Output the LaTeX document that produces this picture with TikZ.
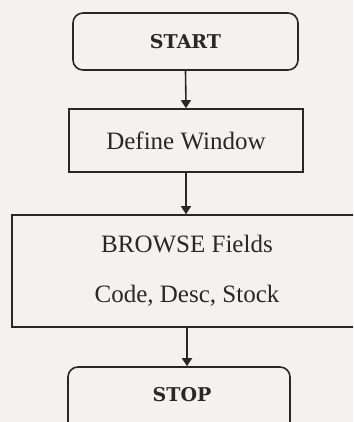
\documentclass[tikz,border=0pt]{standalone}
\usepackage{fontspec}
\setmainfont{Liberation Serif}
\newfontfamily\termfont{DejaVu Serif}
\usetikzlibrary{arrows.meta}
\definecolor{paper}{RGB}{243,242,240}
\definecolor{ink}{RGB}{40,40,40}
\tikzset{
  boxline/.style={draw=ink, line width=1.6pt},
  termbox/.style={boxline, rounded corners=10pt, inner sep=0pt,
    font=\termfont\bfseries\fontsize{19}{22}\selectfont, text=ink},
  procbox/.style={boxline, inner sep=0pt, align=center,
    font=\fontsize{25}{50}\selectfont, text=ink},
  flow/.style={draw=ink, line width=1.6pt, -{Triangle[width=10pt,length=8pt]}}
}
\begin{document}
\begin{tikzpicture}[x=1pt,y=-1pt]
\useasboundingbox (0,0) rectangle (353,422);
\clip (0,0) rectangle (353,422);
\fill[paper] (0,0) rectangle (353,422);
\node[termbox, minimum width=225pt, minimum height=57pt] (start) at (185.5,41.5) {START};
\node[procbox, minimum width=234pt, minimum height=63pt] (define) at (186,140.5) {Define Window};
\node[procbox, minimum width=350pt, minimum height=112pt] (browse) at (187,271) {BROWSE Fields\\Code, Desc, Stock};
\node[termbox, minimum width=222pt, minimum height=70pt] (stop) at (179,402) {};
\node[font=\termfont\bfseries\fontsize{19}{22}\selectfont, text=ink] (stoplabel) at (182,395) {STOP};
\draw[flow] (start.south) -- (define.north);
\draw[flow] (define.south) -- (define.south |- browse.north);
\draw[flow] (browse.south) -- (browse.south |- stop.north);
\end{tikzpicture}
\end{document}
